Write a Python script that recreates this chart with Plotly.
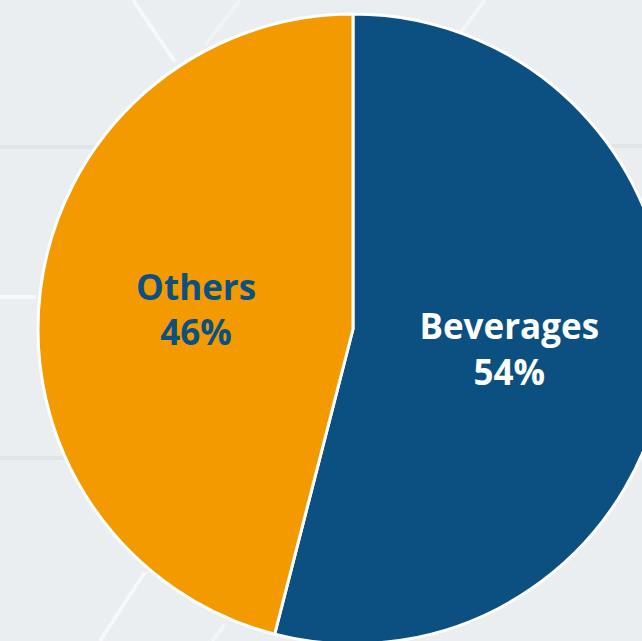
import plotly.graph_objects as go

labels = ["Beverages", "Others"]
values = [54, 46]
colors = ["#0C5082", "#F39A00"]
text_colors = ["#FFFFFF", "#0C5082"]

W, H = 706, 658
MT, MB = 14, 14

fig = go.Figure(
    go.Pie(
        labels=labels,
        values=values,
        sort=False,
        direction="clockwise",
        rotation=0,
        marker=dict(colors=colors, line=dict(color="#FFFFFF", width=3)),
        texttemplate="%{label}<br>%{percent:.0%}",
        textposition="inside",
        insidetextorientation="horizontal",
        textfont=dict(family="Open Sans", size=35, color=text_colors, weight="bold"),
        showlegend=False,
        hoverinfo="skip",
    )
)


def px(x, y):
    return x / W, (H - MB - y) / (H - MT - MB)


def bg_line(x0, y0, x1, y1, color, width, opacity=1.0):
    a, b = px(x0, y0)
    c, d = px(x1, y1)
    return dict(type="line", xref="paper", yref="paper", x0=a, y0=b, x1=c, y1=d,
                line=dict(color=color, width=width), layer="below", opacity=opacity)


shapes = [
    bg_line(0, 147, 120, 147, "#DEE3E7", 4, 0.8),
    bg_line(560, 146, 642, 146, "#DEE3E7", 4, 0.8),
    bg_line(0, 458, 70, 458, "#DEE3E7", 4, 0.8),
    bg_line(0, 297, 36, 297, "#FFFFFF", 4, 0.6),
    bg_line(133, 0, 175, 62, "#FFFFFF", 4, 0.6),
    bg_line(240, 0, 205, 45, "#FFFFFF", 4, 0.35),
    bg_line(485, 0, 455, 40, "#FFFFFF", 4, 0.45),
    bg_line(145, 572, 100, 641, "#FFFFFF", 4, 0.6),
    bg_line(225, 625, 212, 641, "#FFFFFF", 4, 0.4),
]

fig.update_layout(
    width=W,
    height=H,
    margin=dict(l=0, r=0, t=MT, b=MB),
    paper_bgcolor="#EAEEF1",
    plot_bgcolor="#EAEEF1",
    shapes=shapes,
)

fig.write_html(
    "out.html",
    post_script="document.body.style.margin='0';document.body.style.overflow='hidden';",
)
